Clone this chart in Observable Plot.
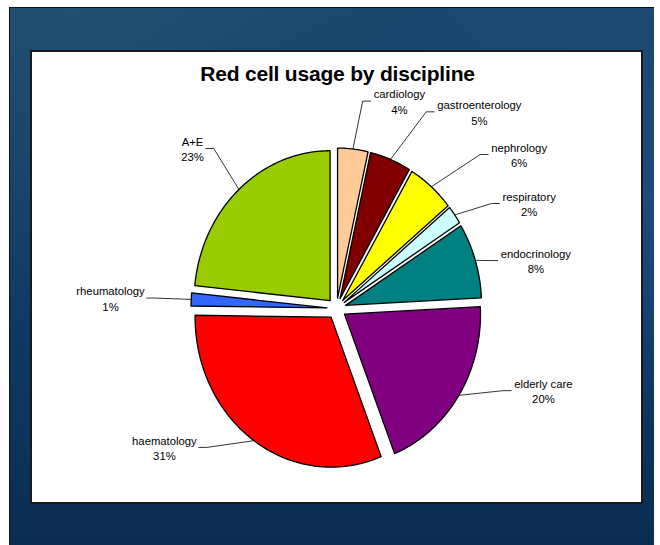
<!DOCTYPE html>
<html>
<head>
<meta charset="utf-8">
<script src="https://cdn.jsdelivr.net/npm/d3@7"></script>
<script src="https://cdn.jsdelivr.net/npm/@observablehq/plot@0.6"></script>
<style>
  html, body { margin: 0; padding: 0; background: #fff; }
  #page { position: relative; width: 660px; height: 545px; overflow: hidden;
          font-family: "Liberation Sans", Arial, sans-serif; }
  #slide { position: absolute; left: 9px; top: 7px; width: 644px; height: 545px;
           border-left: 1px solid #111; border-top: 1px solid #111;
           background:
             radial-gradient(ellipse at 95% 35%, rgba(60,110,170,0.30), rgba(0,0,0,0) 45%),
             radial-gradient(ellipse at 10% 8%, rgba(50,100,120,0.30), rgba(0,0,0,0) 40%),
             linear-gradient(180deg, #1a486e 0%, #133f68 25%, #0e3a66 55%, #0c335a 80%, #0a2c4e 100%); }
  #box { position: absolute; left: 30px; top: 50px; width: 609px; height: 450px;
         background: #fff; border: 2px solid #1a1a1a; }
  #title { position: absolute; left: 30px; width: 615px; top: 62px; line-height: 24px;
           text-align: center; font-weight: bold; font-size: 21px; color: #000;
           letter-spacing: -0.2px; }
  #chart { position: absolute; left: 32px; top: 52px; }
  #chart svg { overflow: visible; }
</style>
</head>
<body>
<div id="page">
  <div id="slide"></div>
  <div id="box"></div>
  <div id="chart"></div>
  <div id="title">Red cell usage by discipline</div>
</div>
<script>
// ---- data ----
const categories = ["cardiology", "gastroenterology", "nephrology", "respiratory", "endocrinology",
                    "elderly care", "haematology", "rheumatology", "A+E"];
const shares = [3.6, 4.9, 5.6, 2.0, 8.1, 19.8, 31.2, 1.4, 23.4];
const pctLabels = ["4%", "5%", "6%", "2%", "8%", "20%", "31%", "1%", "23%"];

// ---- styles ----
const sliceColors = ["#FFCC99", "#800000", "#FFFF00", "#CCFFFF", "#008080",
                     "#800080", "#FF0000", "#3366FF", "#99CC00"];

// ---- layout ----
const W = 609, H = 450;           // svg size
const CX = 304, CY = 256;         // pie centre inside svg (px)
const RX = 136, RY = 150;         // pie radii (px)
const EXPLODE = 0.07;             // slice explosion (pie radii)
const FS = 11.3;                  // label font size
// label placement (polar: degrees clockwise from 12 o'clock, radius in pie radii)
const labelAngle  = [18.5, 38.7, 52.6, 63.7, 77.7, 109.8, 233.8, 272.4, 315.2];
const labelRadius = [1.458, 1.68, 1.69, 1.58, 1.50, 1.617, 1.568, 1.663, 1.503];

// ---- geometry ----
const total = d3.sum(shares);
let cum = 0;
const slices = categories.map((name, i) => {
  const a0 = cum / total * 2 * Math.PI;
  cum += shares[i];
  const a1 = cum / total * 2 * Math.PI;
  return {name, a0, a1, mid: (a0 + a1) / 2};
});

const slicePts = [];
for (const s of slices) {
  const ox = EXPLODE * Math.sin(s.mid), oy = EXPLODE * Math.cos(s.mid);
  slicePts.push({name: s.name, x: ox, y: oy});
  const n = Math.max(4, Math.ceil((s.a1 - s.a0) / 0.01));
  for (let k = 0; k <= n; k++) {
    const t = s.a0 + (s.a1 - s.a0) * k / n;
    slicePts.push({name: s.name, x: ox + Math.sin(t), y: oy + Math.cos(t)});
  }
}

const ctx = document.createElement("canvas").getContext("2d");
ctx.font = `${FS}px "Liberation Sans"`;

const labels = slices.map((s, i) => {
  const a = labelAngle[i] * Math.PI / 180;
  return {name: s.name, text: `${s.name}\n${pctLabels[i]}`,
          x: labelRadius[i] * Math.sin(a), y: labelRadius[i] * Math.cos(a),
          hw: Math.max(ctx.measureText(s.name).width, ctx.measureText(pctLabels[i]).width) / 2};
});

const leaderPts = [];
slices.forEach((s, i) => {
  const L = labels[i];
  const ox = EXPLODE * Math.sin(s.mid), oy = EXPLODE * Math.cos(s.mid);
  const start = {x: ox + Math.sin(s.mid), y: oy + Math.cos(s.mid)};
  const right = L.x > 0;
  const sign = right ? -1 : 1;
  const endX = L.x + sign * (L.hw + (right ? 3 : 2)) / RX;
  const bendX = L.x + sign * (L.hw + (right ? 11 : 10)) / RX;
  leaderPts.push({name: s.name, x: start.x, y: start.y});
  leaderPts.push({name: s.name, x: bendX, y: L.y});
  leaderPts.push({name: s.name, x: endX, y: L.y});
});

const chart = Plot.plot({
  width: W, height: H,
  margin: 0,
  style: {background: "transparent", fontFamily: "'Liberation Sans', Arial, sans-serif", color: "#000"},
  x: {domain: [-CX / RX, (W - CX) / RX], range: [0, W], axis: null},
  y: {domain: [-(H - CY) / RY, CY / RY], range: [H, 0], axis: null},
  color: {domain: categories, range: sliceColors},
  marks: [
    Plot.line(leaderPts, {x: "x", y: "y", z: "name", stroke: "#000", strokeWidth: 0.8}),
    Plot.line(slicePts, {x: "x", y: "y", z: "name", fill: "name", stroke: "#000",
                         strokeWidth: 1.3, strokeLinejoin: "round", curve: "linear-closed"}),
    Plot.text(labels, {x: "x", y: "y", text: "text", fontSize: FS, lineHeight: 1.37,
                       textAnchor: "middle", fill: "#000"})
  ]
});
document.getElementById("chart").appendChild(chart);
</script>
</body>
</html>
